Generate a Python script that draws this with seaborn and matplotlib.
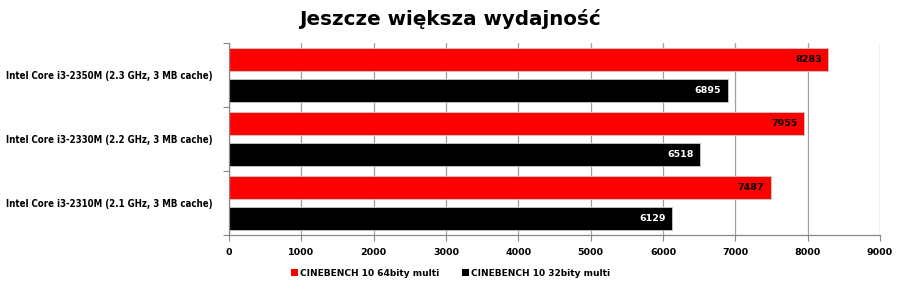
import matplotlib
matplotlib.use("Agg")
import matplotlib.pyplot as plt
import seaborn as sns
import pandas as pd
import numpy as np
from matplotlib import font_manager

categories = ["Intel Core i3-2350M (2.3 GHz, 3 MB cache)",
              "Intel Core i3-2330M (2.2 GHz, 3 MB cache)",
              "Intel Core i3-2310M (2.1 GHz, 3 MB cache)"]
series_names = ["CINEBENCH 10 64bity multi", "CINEBENCH 10 32bity multi"]
values_64 = [8283, 7955, 7487]
values_32 = [6895, 6518, 6129]
x_ticks = [0, 1000, 2000, 3000, 4000, 5000, 6000, 7000, 8000, 9000]
title = "Jeszcze większa wydajność"

df = pd.DataFrame({
    "cpu": categories * 2,
    "series": [series_names[0]] * 3 + [series_names[1]] * 3,
    "value": values_64 + values_32,
})

sns.set_theme(style="white")
plt.rcParams['font.family'] = ['DejaVu Sans']
plt.rcParams['text.color'] = 'black'
plt.rcParams['xtick.color'] = 'black'
plt.rcParams['ytick.color'] = 'black'

names = {f.name for f in font_manager.fontManager.ttflist}
label_family = 'DejaVu Sans'
label_size = 6.2
label_stretch = 'normal'
for f in font_manager.fontManager.ttflist:
    if f.name == 'DejaVu Sans' and f.stretch == 'condensed':
        label_stretch = 'condensed'
        label_size = 6.9
        break

fig = plt.figure(figsize=(9, 2.91), dpi=100)
ax = fig.add_axes([0.2544, 0.192, 0.7234, 0.66])

palette = {series_names[0]: "#ff0000", series_names[1]: "#000000"}
sns.barplot(data=df, y="cpu", x="value", hue="series", order=categories,
            hue_order=series_names, palette=palette, orient="h",
            width=0.97, gap=0.26, edgecolor="#c8c8c8", linewidth=0.6,
            saturation=1, ax=ax, legend=True)

ax.set_xlim(0, 9000)
ax.set_ylim(2.5, -0.5)
ax.set_xticks(x_ticks)
ax.set_xticklabels([str(t) for t in x_ticks], fontsize=6.8, fontweight="bold")
ax.set_xlabel("")
ax.set_ylabel("")
ax.set_yticks(range(len(categories)))
ax.set_yticklabels(categories, fontsize=label_size, fontweight="bold", fontstretch=label_stretch)
ax.tick_params(axis="y", which="major", length=0, pad=12, labelcolor="black")
ax.set_yticks([-0.5, 0.5, 1.5, 2.5], minor=True)
ax.tick_params(axis="y", which="minor", length=4, color="#888888", width=0.8, direction="out", left=True)
ax.tick_params(axis="x", which="major", length=4, color="#888888", width=0.8, direction="out",
               bottom=True, pad=5, labelcolor="black")

ax.grid(axis="x", color="#a0a0a0", linewidth=0.9)
ax.grid(axis="y", visible=False)
ax.set_axisbelow(True)
for s in ["top", "right"]:
    ax.spines[s].set_visible(False)
for s in ["left", "bottom"]:
    ax.spines[s].set_color("#888888")
    ax.spines[s].set_linewidth(0.9)

for i, container in enumerate(ax.containers):
    color = "black" if i == 0 else "white"
    for bar, v in zip(container, values_64 if i == 0 else values_32):
        ax.text(bar.get_width() - 90, bar.get_y() + bar.get_height() / 2, str(v),
                ha="right", va="center", fontsize=6.8, fontweight="bold", color=color)

leg = ax.legend(loc="center", bbox_to_anchor=(0.34, -0.2), ncol=2, frameon=False,
                prop={"weight": "bold", "size": 6.5}, handlelength=0.8, handleheight=0.8,
                handletextpad=0.2, columnspacing=2.5, borderpad=0)
for h in leg.legend_handles:
    h.set_edgecolor("none")

fig.text(0.5, 0.935, title, ha="center", va="center", fontsize=14.3, fontweight="heavy", color="black")

fig.savefig("out.png", dpi=100)
